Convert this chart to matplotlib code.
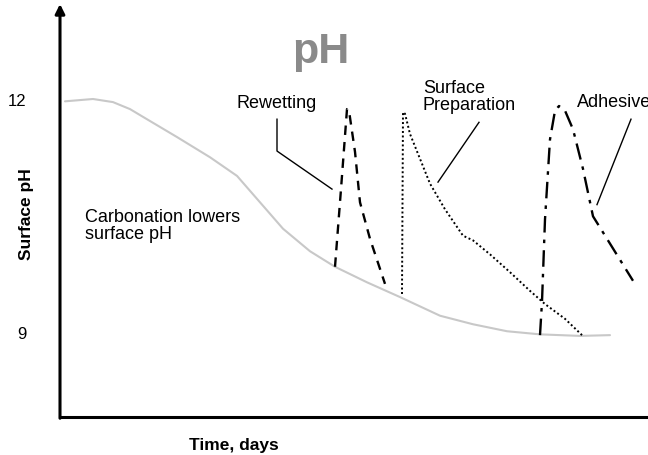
import matplotlib
matplotlib.use("Agg")
import matplotlib.pyplot as plt

plt.rcParams['font.family'] = ['Liberation Sans', 'DejaVu Sans']

# Background carbonation curve (time in days, surface pH)
carb_t = [5, 33, 53, 70, 83, 100, 117, 150, 177, 200, 223, 250, 275, 307, 340, 380,
          413, 447, 480, 520, 550]
carb_ph = [11.97, 12.00, 11.96, 11.87, 11.77, 11.64, 11.51, 11.25, 11.01, 10.67,
           10.33, 10.04, 9.84, 9.64, 9.45, 9.21, 9.10, 9.01, 8.97, 8.95, 8.96]

# Rewetting event
rew_t = [275, 281, 287, 289, 295, 300, 310, 325]
rew_ph = [9.84, 10.84, 11.87, 11.85, 11.32, 10.67, 10.20, 9.62]

# Surface preparation event
prep_t = [342, 343, 345, 350, 360, 370, 385, 403, 413, 430, 450, 470, 485, 505, 522]
prep_ph = [9.49, 11.83, 11.81, 11.55, 11.23, 10.91, 10.58, 10.24, 10.18, 10.00,
           9.77, 9.53, 9.36, 9.17, 8.96]

# Adhesive event
adh_t = [480, 482, 485, 490, 495, 499, 505, 513, 523, 533, 547, 573]
adh_ph = [8.96, 9.39, 10.45, 11.48, 11.85, 11.91, 11.85, 11.61, 11.10, 10.49, 10.20, 9.66]

ytick_vals = [12, 9]
ytick_labels = ["12", "9"]

fig = plt.figure(figsize=(6.48, 4.56), dpi=100)
ax = fig.add_axes([60/648, 38/456, 588/648, 413/456])
ax.set_xlim(0, 588)
ax.set_ylim(7.906, 13.223)

ax.plot(carb_t, carb_ph, color='#c8c8c8', lw=1.5, solid_capstyle='round',
        solid_joinstyle='round')
ax.plot(rew_t, rew_ph, color='black', lw=1.7, linestyle=(0, (4, 3)))
ax.plot(prep_t, prep_ph, color='black', lw=1.4, linestyle=(0, (1, 1.3)))
ax.plot(adh_t, adh_ph, color='black', lw=1.7, linestyle=(0, (7, 3, 1.5, 3)))

# Leader lines
ax.plot([217, 217, 272], [11.74, 11.33, 10.84], color='black', lw=1)
ax.plot([419, 378], [11.70, 10.93], color='black', lw=1)
ax.plot([571, 537], [11.74, 10.64], color='black', lw=1)

ax.text(217, 11.96, "Rewetting", ha='center', va='center', fontsize=13)
ax.text(363, 12.04, "Surface\nPreparation", ha='left', va='center', fontsize=13,
        linespacing=1.05)
ax.text(517, 11.97, "Adhesive", ha='left', va='center', fontsize=13)
ax.text(25, 10.38, "Carbonation lowers\nsurface pH", ha='left', va='center',
        fontsize=13, linespacing=1.05)
ax.text(261, 12.62, "pH", ha='center', va='center', fontsize=31,
        fontweight='bold', color='#8a8a8a')

# Axes styling
for s in ['top', 'right', 'left']:
    ax.spines[s].set_visible(False)
ax.spines['bottom'].set_linewidth(2.2)
ax.annotate('', xy=(0, 1.0), xytext=(0, -0.003), xycoords='axes fraction',
            arrowprops=dict(arrowstyle='-|>', lw=2.2, color='black',
                            mutation_scale=14, shrinkA=0, shrinkB=0))
ax.set_xticks([])
ax.set_yticks(ytick_vals)
ax.set_yticklabels(ytick_labels, fontsize=12)
ax.tick_params(axis='y', length=0, pad=24)

fig.text(27/648, 1 - 214/456, "Surface pH", rotation=90, ha='center',
         va='center', fontsize=12.5, fontweight='bold')
fig.text(234/648, 1 - 446/456, "Time, days", ha='center', va='center',
         fontsize=12.5, fontweight='bold')

fig.savefig("out.png", dpi=100)
